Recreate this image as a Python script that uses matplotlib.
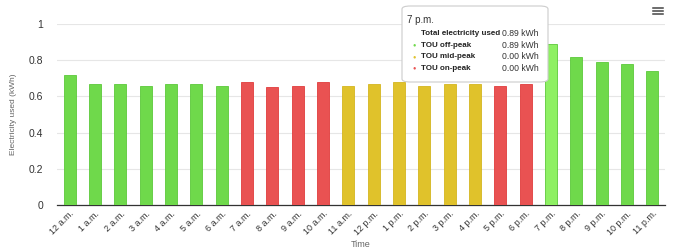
import matplotlib.pyplot as plt
from matplotlib.patches import FancyBboxPatch

plt.rcParams['font.family'] = ['Liberation Sans', 'DejaVu Sans']

hours = ['12 a.m.', '1 a.m.', '2 a.m.', '3 a.m.', '4 a.m.', '5 a.m.', '6 a.m.',
         '7 a.m.', '8 a.m.', '9 a.m.', '10 a.m.', '11 a.m.', '12 p.m.', '1 p.m.',
         '2 p.m.', '3 p.m.', '4 p.m.', '5 p.m.', '6 p.m.', '7 p.m.', '8 p.m.',
         '9 p.m.', '10 p.m.', '11 p.m.']
usage = [0.72, 0.67, 0.67, 0.66, 0.67, 0.67, 0.66,
         0.68, 0.65, 0.66, 0.68, 0.66, 0.67, 0.68,
         0.66, 0.67, 0.67, 0.66, 0.67, 0.89, 0.82,
         0.79, 0.78, 0.74]
period = ['off'] * 7 + ['on'] * 4 + ['mid'] * 6 + ['on'] * 2 + ['off'] * 5

tip_title = '7 p.m.'
tip_rows = ['Total electricity used', 'TOU off-peak', 'TOU mid-peak', 'TOU on-peak']
tip_vals = ['0.89 kWh', '0.89 kWh', '0.00 kWh', '0.00 kWh']
tip_dots = [None, 'off', 'mid', 'on']
hover_idx = 19

COLORS = {'off': '#6fd94b', 'mid': '#e0c22b', 'on': '#e95252'}
EDGE = {'off': '#5cc93a', 'mid': '#d4b520', 'on': '#e03c3c'}
HOVER = '#8ef063'

fig = plt.figure(figsize=(6.9, 2.52), dpi=100)
ax = fig.add_axes([0.0826, 0.1865, 0.881, 0.7185])

x = range(len(hours))
cols = [COLORS[p] for p in period]
cols[hover_idx] = HOVER
edges = [EDGE[p] for p in period]
ax.bar(x, usage, width=0.47, color=cols, edgecolor=edges, linewidth=0.6, zorder=3)

ax.set_xlim(-0.5, len(hours) - 0.5)
ax.set_ylim(0, 1)
ax.set_yticks([0, 0.2, 0.4, 0.6, 0.8, 1])
ax.set_yticklabels(['0', '0.2', '0.4', '0.6', '0.8', '1'])
ax.grid(axis='y', color='#e6e6e6', lw=0.8, zorder=0)
for s in ['top', 'right', 'left']:
    ax.spines[s].set_visible(False)
ax.spines['bottom'].set_color('#333333')
ax.spines['bottom'].set_linewidth(0.9)
ax.tick_params(axis='y', length=0, labelsize=7.5, colors='#333333', pad=10)
ax.tick_params(axis='x', length=0, labelsize=6.5, colors='#333333', pad=3)
ax.set_xticks(list(x))
ax.set_xticklabels(hours, rotation=45, ha='right', rotation_mode='anchor')
ax.set_ylabel('Electricity used (kWh)', fontsize=6, color='#666666', labelpad=8)
ax.set_xlabel('Time', fontsize=6.5, color='#666666', labelpad=2)

# tooltip
fx = lambda px: px / 690
fy = lambda py: 1 - py / 252
box = FancyBboxPatch((fx(402), fy(82)), fx(548) - fx(402), fy(6) - fy(82),
                     boxstyle='round,pad=0,rounding_size=0.012',
                     transform=fig.transFigure, facecolor='white',
                     edgecolor='#cccccc', linewidth=0.8, zorder=10)
fig.add_artist(box)
fig.text(fx(407), fy(20), tip_title, fontsize=7, color='#333333', va='center', zorder=11)
for i, (lab, val, dot) in enumerate(zip(tip_rows, tip_vals, tip_dots)):
    yy = fy(33.5 + i * 11.6)
    fig.text(fx(421), yy, lab, fontsize=5.8, fontweight='bold', color='#222222',
             va='center', zorder=11)
    fig.text(fx(539), yy, val, fontsize=6.2, color='#333333', va='center',
             ha='right', zorder=11)
    if dot:
        fig.text(fx(414), yy, '\u25cf', fontsize=4, color=COLORS[dot], va='center',
                 ha='center', zorder=11)

# menu icon
for k in range(3):
    fig.add_artist(plt.Line2D([fx(653), fx(663)], [fy(7.5 + 3.2 * k)] * 2,
                              transform=fig.transFigure, color='#444444', lw=1.1))

fig.savefig('out.png', dpi=100)
